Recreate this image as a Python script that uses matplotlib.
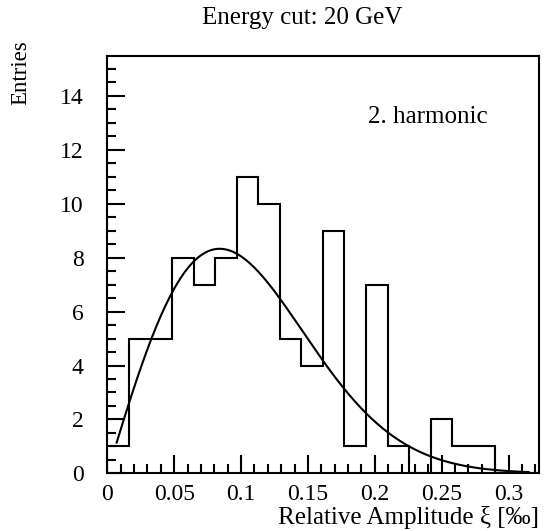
import matplotlib
matplotlib.use('Agg')
import matplotlib.pyplot as plt
import numpy as np
from matplotlib.ticker import MultipleLocator

plt.rcParams['font.family'] = ['Liberation Serif', 'DejaVu Serif']

# histogram: 20 bins starting at 0
bin_width = 0.01612
counts = [1, 5, 5, 8, 7, 8, 11, 10, 5, 4, 9, 1, 7, 1, 0, 2, 1, 1, 0, 0]

# Rayleigh fit
fit_peak = 8.33
fit_sigma = 0.084
fit_range = [0.007, 0.315]

title = 'Energy cut: 20 GeV'
label = '2. harmonic'

edges = np.arange(len(counts) + 1) * bin_width

fig = plt.figure(figsize=(5.55, 5.31), dpi=100)
ax = fig.add_axes([0.1933, 0.1086, 0.777, 0.7859])

ax.stairs(counts, edges, color='black', linewidth=1.5)

xf = np.linspace(fit_range[0], fit_range[1], 300)
yf = fit_peak * (xf / fit_sigma) * np.exp(0.5 - xf**2 / (2 * fit_sigma**2))
ax.plot(xf, yf, color='black', linewidth=1.5)

ax.set_xlim(0, edges[-1])
ax.set_ylim(0, 15.48)

ax.xaxis.set_minor_locator(MultipleLocator(0.01))
ax.yaxis.set_major_locator(MultipleLocator(2))
ax.yaxis.set_minor_locator(MultipleLocator(0.5))
ax.set_xticks([0, 0.05, 0.1, 0.15, 0.2, 0.25, 0.3])
ax.set_xticklabels(['0', '0.05', '0.1', '0.15', '0.2', '0.25', '0.3'])

ax.tick_params(which='both', direction='in', top=False, right=False, labelsize=17, width=1.5)
ax.tick_params(which='major', length=13)
ax.tick_params(which='minor', length=6.5)
ax.tick_params(axis='x', pad=8)
ax.tick_params(axis='y', pad=17)
for s in ax.spines.values():
    s.set_linewidth(1.5)

fig.text(368 / 555, 1 - 123 / 531, label, ha='left', va='baseline', fontsize=18)

fig.text(302 / 555, 1 - 24 / 531, title, ha='center', va='baseline', fontsize=18)
fig.text(21 / 555, 1 - 40 / 531, 'Entries', rotation=90, ha='center', va='top', fontsize=16.5)
fig.text(539 / 555, 1 - 524 / 531, 'Relative Amplitude ξ [‰]', ha='right', va='baseline', fontsize=18)

fig.savefig('out.png', dpi=100)
